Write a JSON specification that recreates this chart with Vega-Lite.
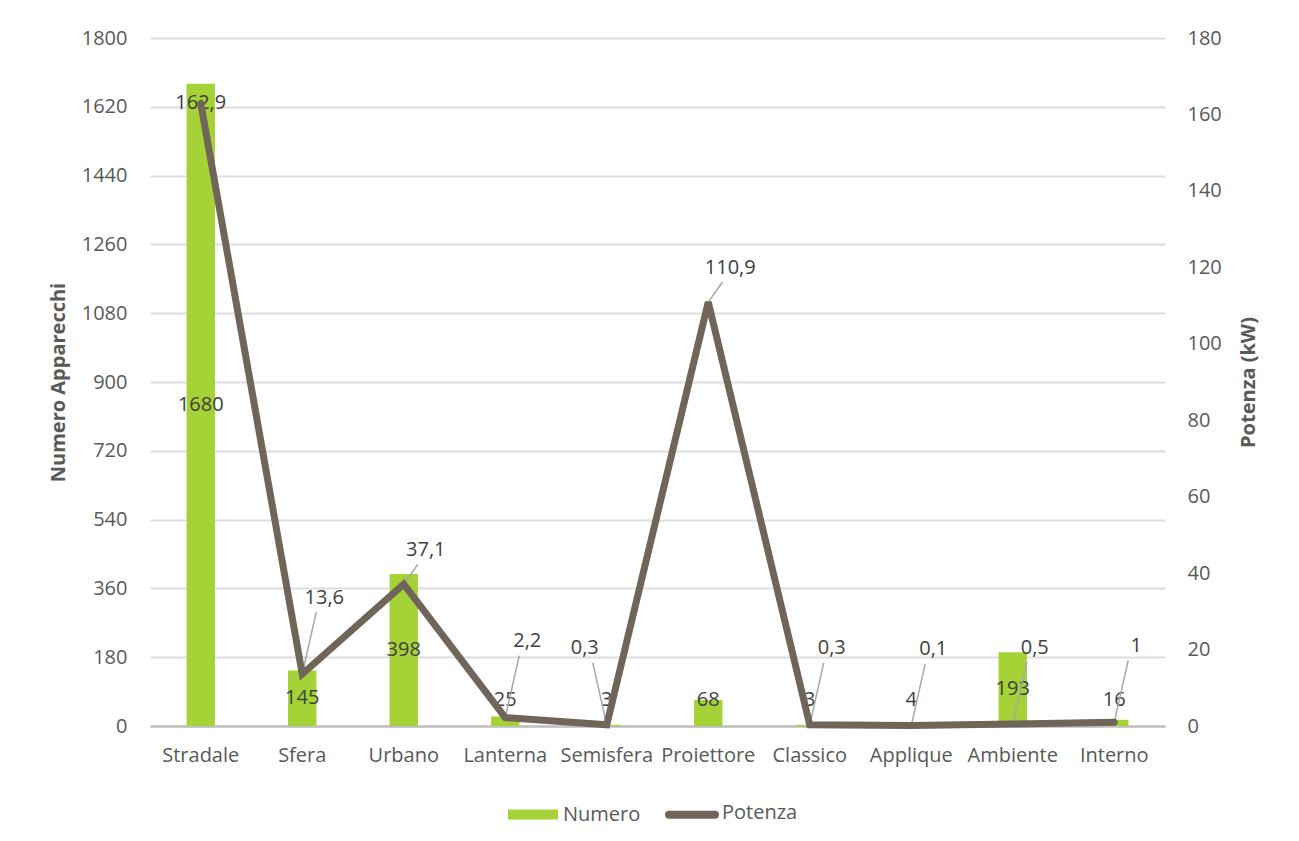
{
  "$schema": "https://vega.github.io/schema/vega-lite/v6.json",
  "width": 1015,
  "height": 688,
  "autosize": {"type": "none"},
  "padding": {"left": 150, "top": 38, "right": 134, "bottom": 115},
  "background": "white",
  "config": {
    "view": {"stroke": null},
    "font": "Open Sans",
    "axis": {
      "labelFont": "Open Sans",
      "labelFontSize": 20,
      "labelColor": "#595959",
      "titleFont": "Open Sans",
      "titleFontSize": 20,
      "titleFontWeight": "bold",
      "titleColor": "#595959",
      "ticks": false,
      "domain": false,
      "grid": false
    },
    "legend": {"labelFont": "Open Sans"}
  },
  "data": {
    "values": [
      {"tipo": "Stradale", "Numero": 1680, "Potenza": 162.9},
      {"tipo": "Sfera", "Numero": 145, "Potenza": 13.6},
      {"tipo": "Urbano", "Numero": 398, "Potenza": 37.1},
      {"tipo": "Lanterna", "Numero": 25, "Potenza": 2.2},
      {"tipo": "Semisfera", "Numero": 3, "Potenza": 0.3},
      {"tipo": "Proiettore", "Numero": 68, "Potenza": 110.9},
      {"tipo": "Classico", "Numero": 3, "Potenza": 0.3},
      {"tipo": "Applique", "Numero": 4, "Potenza": 0.1},
      {"tipo": "Ambiente", "Numero": 193, "Potenza": 0.5},
      {"tipo": "Interno", "Numero": 16, "Potenza": 1}
    ]
  },
  "transform": [
    {"window": [{"op": "lead", "field": "Potenza", "as": "successiva"}]},
    {"calculate": "max(datum.Numero / 2, 68)", "as": "posNumero"},
    {"calculate": "datum.Potenza > 150 ? datum.Potenza : (datum.Potenza > 30 ? datum.Potenza + 9 : datum.Potenza + 20)", "as": "posPotenza"},
    {"calculate": "datum.posPotenza - 3.8", "as": "fineGuida"},
    {"calculate": "datum.Potenza > 150 ? 0 : (datum.successiva != null && datum.successiva - datum.Potenza > 50 ? -1 : 1)", "as": "verso"},
    {"calculate": "replace(format(datum.Potenza, '.1~f'), '.', ',')", "as": "etichettaPotenza"}
  ],
  "encoding": {
    "x": {
      "field": "tipo",
      "type": "nominal",
      "sort": null,
      "scale": {"paddingInner": 0, "paddingOuter": 0},
      "axis": {
        "title": null,
        "labelAngle": 0,
        "labelPadding": 19,
        "domain": true,
        "domainColor": "#bfbfbf",
        "domainWidth": 2.5
      }
    }
  },
  "layer": [
    {
      "layer": [
        {
          "mark": {"type": "bar", "width": {"band": 0.28}},
          "encoding": {
            "y": {
              "field": "Numero",
              "type": "quantitative",
              "title": "Numero Apparecchi",
              "scale": {"domain": [0, 1800]},
              "axis": {
                "orient": "left",
                "values": [0, 180, 360, 540, 720, 900, 1080, 1260, 1440, 1620, 1800],
                "format": "d",
                "grid": true,
                "gridColor": "#dedede",
                "gridWidth": 2,
                "labelPadding": 23,
                "titleAngle": -90,
                "titleX": -92,
                "titleY": 344,
                "titleAlign": "center",
                "titleBaseline": "middle"
              }
            },
            "color": {
              "datum": "Numero",
              "type": "nominal",
              "scale": {"domain": ["Numero", "Potenza"], "range": ["#a5d236", "#6f6558"]},
              "legend": {
                "title": null,
                "orient": "none",
                "direction": "horizontal",
                "legendX": 373,
                "legendY": 760,
                "symbolType": "M-1,-0.2H1V0.2H-1Z",
                "symbolSize": 2500,
                "labelFontSize": 20,
                "labelColor": "#595959",
                "labelOffset": 20,
                "columnPadding": 12,
                "encode": {
                  "symbols": {
                    "update": {
                      "shape": {"signal": "datum.value === 'Potenza' ? 'M-0.92,0.26H0.92' : 'M-1,-0.2H1V0.2H-1Z'"},
                      "fill": {"signal": "datum.value === 'Potenza' ? 'transparent' : '#a5d236'"},
                      "stroke": {"signal": "datum.value === 'Potenza' ? '#6f6558' : 'transparent'"},
                      "strokeWidth": {"signal": "datum.value === 'Potenza' ? 8 : 0"},
                      "strokeCap": {"value": "round"},
                      "opacity": {"value": 1}
                    }
                  },
                  "labels": {
                    "update": {
                      "dy": {"signal": "datum.value === 'Potenza' ? 5 : 0"}
                    }
                  }
                }
              }
            }
          }
        },
        {
          "mark": {"type": "text", "fontSize": 20, "color": "#404040", "baseline": "middle"},
          "encoding": {
            "y": {"field": "posNumero", "type": "quantitative", "title": "Numero Apparecchi"},
            "text": {"field": "Numero", "type": "quantitative", "format": "d"}
          }
        }
      ]
    },
    {
      "layer": [
        {
          "transform": [{"filter": "datum.Potenza <= 150"}],
          "mark": {
            "type": "rule",
            "color": "#a6a6a6",
            "strokeWidth": 1.5,
            "x2Offset": {"expr": "datum.verso * 14"}
          },
          "encoding": {
            "y": {"field": "Potenza", "type": "quantitative", "title": "Potenza (kW)"},
            "x2": {"field": "tipo"},
            "y2": {"field": "fineGuida"}
          }
        },
        {
          "mark": {
            "type": "text",
            "fontSize": 20,
            "color": "#404040",
            "baseline": "middle",
            "dx": {"expr": "datum.verso * 22"}
          },
          "encoding": {
            "y": {"field": "posPotenza", "type": "quantitative", "title": "Potenza (kW)"},
            "text": {"field": "etichettaPotenza", "type": "nominal"}
          }
        },
        {
          "mark": {"type": "line", "strokeWidth": 7, "strokeCap": "round", "strokeJoin": "miter"},
          "encoding": {
            "y": {
              "field": "Potenza",
              "type": "quantitative",
              "title": "Potenza (kW)",
              "scale": {"domain": [0, 180]},
              "axis": {
                "orient": "right",
                "values": [0, 20, 40, 60, 80, 100, 120, 140, 160, 180],
                "format": "d",
                "labelPadding": 22,
                "titleAngle": -90,
                "titleX": 83,
                "titleY": 344,
                "titleAlign": "center",
                "titleBaseline": "middle"
              }
            },
            "color": {"datum": "Potenza", "type": "nominal"}
          }
        }
      ]
    }
  ],
  "resolve": {"scale": {"y": "independent"}}
}
